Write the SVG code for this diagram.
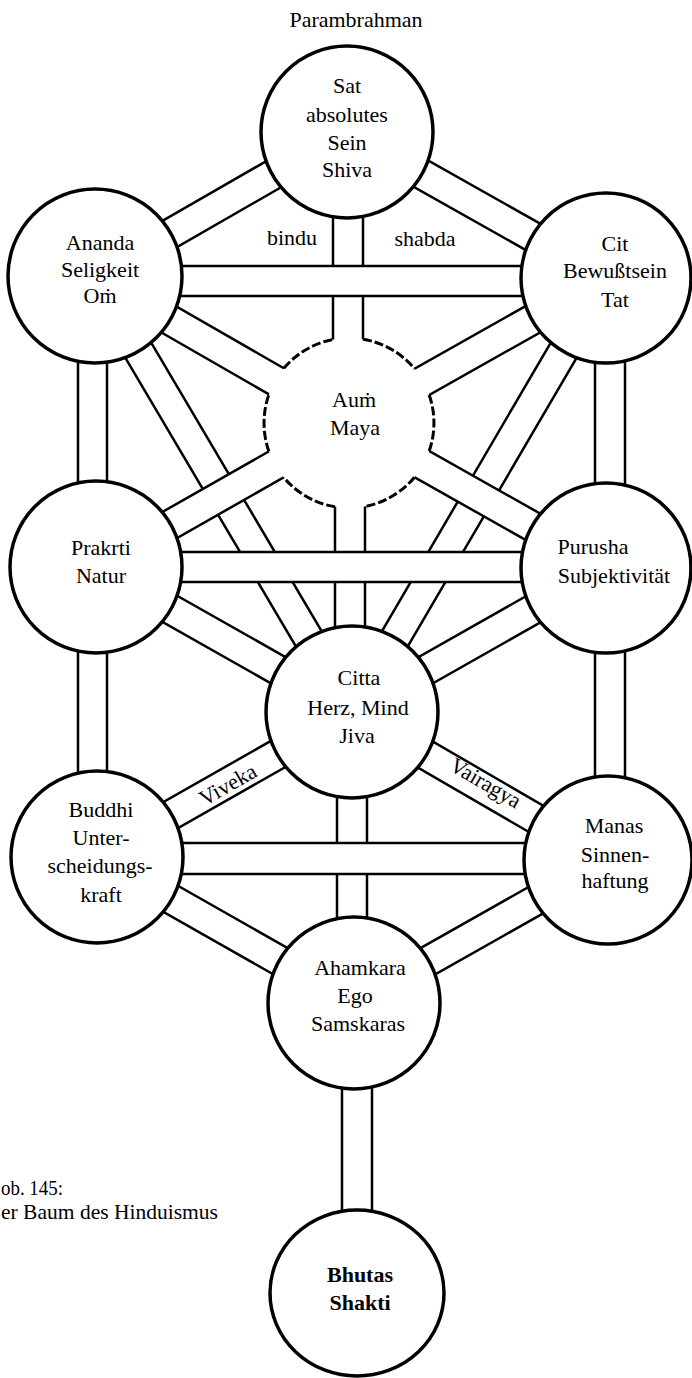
<svg xmlns="http://www.w3.org/2000/svg" width="692" height="1378" viewBox="0 0 692 1378">
<style>
.c{fill:#fff;stroke:#000;stroke-width:3.5}
.e{fill:none;stroke:#000;stroke-width:2.5}
.f{fill:#fff;stroke:none}
.d{fill:none;stroke:#000;stroke-width:3;stroke-dasharray:9 3}
.t{font-family:"Liberation Serif","Times New Roman",serif;font-size:22px;text-anchor:middle;fill:#000}
.cap{font-family:"Liberation Serif","Times New Roman",serif;font-size:21.5px;fill:#000}
</style>
<rect width="692" height="1378" fill="#fff"/>
<g id="connectors">
  <path class="e" d="M339.5,119 L87.5,264 M354.5,145 L102.5,290"/>
  <path class="e" d="M339.6,145.1 L598.6,291.1 M354.4,118.9 L613.4,264.9"/>
  <path class="e" d="M333,132 V423 M363,132 V423"/>
  <path class="e" d="M87.5,290 L341.5,436 M102.5,264 L356.5,410"/>
  <path class="e" d="M598.6,264.9 L341.6,409.9 M613.4,291.1 L356.4,436.1"/>
  <path class="e" d="M78,277 V567 M107,277 V567"/>
  <path class="e" d="M595,278 V568 M625,278 V568"/>
  <path class="e" d="M82.1,284.6 L339.1,719.6 M107.9,269.4 L364.9,704.4"/>
  <path class="e" d="M593.1,270.4 L339.1,704.4 M618.9,285.6 L364.9,719.6"/>
  <path class="e" d="M335,423 V712 M365,423 V712"/>
  <path class="e" d="M88.6,580.1 L344.6,725.1 M103.4,554 L359.4,699"/>
  <path class="e" d="M598.6,555 L344.6,699 M613.4,581 L359.4,725"/>
  <path class="e" d="M78,567 V857 M107,567 V857"/>
  <path class="e" d="M595,568 V860 M625,568 V860"/>
  <path class="e" d="M344.6,699 L89.6,844 M359.4,725 L104.4,870"/>
  <path class="e" d="M344.5,725 L599.5,873 M359.5,699 L614.5,847"/>
  <path class="e" d="M337,712 V1003 M367,712 V1003"/>
  <path class="e" d="M89.6,870 L346.6,1016 M104.4,844 L361.4,990"/>
  <path class="e" d="M599.6,846.9 L346.6,989.9 M614.4,873.1 L361.4,1016.1"/>
  <path class="e" d="M342,1003 V1294 M372,1003 V1294"/>
  <polygon class="f" points="103.4,580 356.4,436 341.6,410 88.6,554"/>
  <path class="e" d="M103.4,580 L356.4,436 M88.6,554 L341.6,410"/>
  <polygon class="f" points="613.4,554.9 356.4,409.9 341.6,436.1 598.6,581.1"/>
  <path class="e" d="M613.4,554.9 L356.4,409.9 M598.6,581.1 L341.6,436.1"/>
  <rect class="f" x="95" y="266" width="511" height="30"/>
  <path class="e" d="M95,266 H606 M95,296 H606"/>
  <rect class="f" x="96" y="552" width="510" height="30"/>
  <path class="e" d="M96,552 H606 M96,582 H606"/>
  <rect class="f" x="97" y="843" width="510" height="31"/>
  <path class="e" d="M97,843 H607 M97,874 H607"/>
</g>
<g id="node-sat"><circle class="c" cx="347" cy="132" r="86"/>
  <text class="t" x="347" y="93">Sat</text><text class="t" x="347" y="122">absolutes</text><text class="t" x="347" y="150">Sein</text><text class="t" x="347" y="177">Shiva</text></g>
<g id="node-ananda"><circle class="c" cx="95" cy="276" r="87"/>
  <text class="t" x="100" y="250">Ananda</text><text class="t" x="100" y="277">Seligkeit</text><text class="t" x="100" y="303">Oṁ</text></g>
<g id="node-cit"><circle class="c" cx="606" cy="278" r="85"/>
  <text class="t" x="615" y="251">Cit</text><text class="t" x="615" y="278">Bewußtsein</text><text class="t" x="615" y="307">Tat</text></g>
<g id="node-aum"><circle class="f" cx="349" cy="423" r="85"/>
  <path class="d" d="M363,339.2 A85,85 0 0 1 414.5,368.8 M429.2,395 A85,85 0 0 1 429.2,451 M414.5,477.2 A85,85 0 0 1 365,506.5 M335,506.8 A85,85 0 0 1 283.7,477.4 M268.9,451.4 A85,85 0 0 1 269,394.3 M283.9,368.3 A85,85 0 0 1 333,339.5"/>
  <text class="t" x="354" y="407">Auṁ</text><text class="t" x="355" y="435">Maya</text></g>
<g id="node-prakrti"><circle class="c" cx="96" cy="567" r="86"/>
  <text class="t" x="101" y="555">Prakrti</text><text class="t" x="101" y="583">Natur</text></g>
<g id="node-purusha"><circle class="c" cx="606" cy="568" r="85"/>
  <text class="t" x="593" y="554">Purusha</text><text class="t" x="614" y="583">Subjektivität</text></g>
<g id="node-citta"><circle class="c" cx="352" cy="712" r="86"/>
  <text class="t" x="359" y="685">Citta</text><text class="t" x="358" y="715">Herz, Mind</text><text class="t" x="357" y="743">Jiva</text></g>
<g id="node-buddhi"><circle class="c" cx="97" cy="857" r="86"/>
  <text class="t" x="101" y="817">Buddhi</text><text class="t" x="101" y="845">Unter-</text><text class="t" x="100" y="873">scheidungs-</text><text class="t" x="101" y="902">kraft</text></g>
<g id="node-manas"><circle class="c" cx="608" cy="860" r="84"/>
  <text class="t" x="614" y="833">Manas</text><text class="t" x="615" y="862">Sinnen-</text><text class="t" x="615" y="888">haftung</text></g>
<g id="node-ahamkara"><circle class="c" cx="354" cy="1003" r="86"/>
  <text class="t" x="360" y="975">Ahamkara</text><text class="t" x="355" y="1003">Ego</text><text class="t" x="358" y="1031">Samskaras</text></g>
<g id="node-bhutas"><ellipse class="c" cx="357" cy="1293" rx="87" ry="83"/>
  <text class="t" x="360" y="1282" font-weight="bold">Bhutas</text><text class="t" x="360" y="1310" font-weight="bold">Shakti</text></g>
<g id="connector-labels">
  <text class="t" x="292" y="245">bindu</text>
  <text class="t" x="425" y="246">shabda</text>
  <text class="t" transform="translate(228,785) rotate(-29.6)" x="0" y="7">Viveka</text>
  <text class="t" transform="translate(485,784) rotate(30.1)" x="0" y="6">Vairagya</text>
</g>
<g id="title"><text class="t" x="356" y="27" font-size="24">Parambrahman</text></g>
<g id="caption">
  <text class="cap" x="1" y="1195" textLength="62" lengthAdjust="spacingAndGlyphs">ob. 145:</text>
  <text class="cap" x="1" y="1219" textLength="217" lengthAdjust="spacingAndGlyphs">er Baum des Hinduismus</text>
</g>
</svg>
